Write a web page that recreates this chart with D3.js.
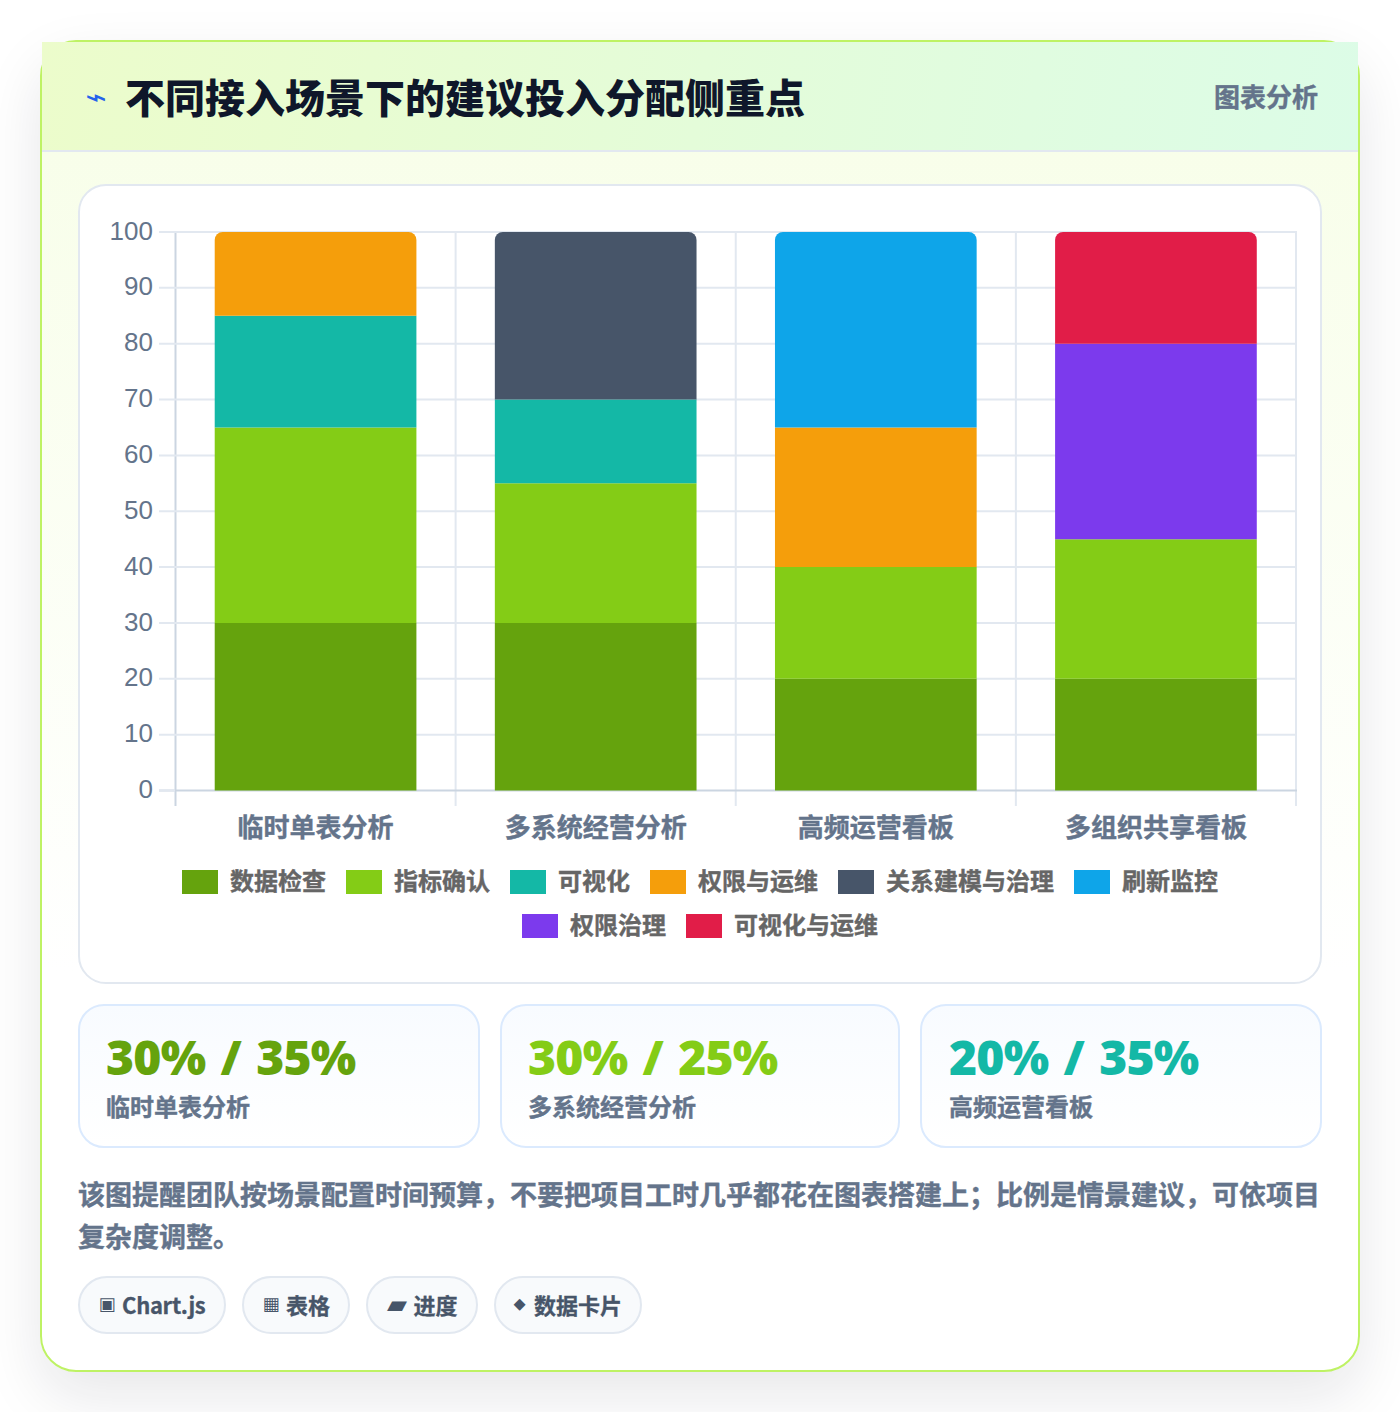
<!DOCTYPE html>
<html lang="zh"><head><meta charset="utf-8">
<script src="https://cdn.jsdelivr.net/npm/d3@7"></script>
<style>
*{box-sizing:border-box;margin:0;padding:0}
html,body{width:1400px;height:1412px;background:#fff;overflow:hidden}
body{font-family:"Noto Sans CJK SC","Noto Sans",sans-serif;position:relative}
.card{position:absolute;left:40px;top:40px;width:1320px;height:1332px;border:2px solid #bef264;border-radius:36px;background:linear-gradient(180deg,#f7fee7 0%,#ffffff 70%);box-shadow:0 24px 60px rgba(15,23,42,.10)}
.head{position:absolute;left:0;top:0;width:1316px;height:110px;background:linear-gradient(100deg,#ecfccb,#dcfce7);border-bottom:2px solid #e2e8f0}
.bolt{position:absolute;left:43px;top:38px;font-family:"DejaVu Sans";font-size:26px;line-height:34px;color:#2563eb;font-weight:700;transform:scaleX(1.4);transform-origin:0 50%}
h1{position:absolute;left:83px;top:27px;font-size:40px;line-height:54px;font-weight:900;color:#0f172a;white-space:nowrap}
.tag{position:absolute;right:40px;top:35px;font-size:26px;line-height:38px;font-weight:700;color:#64748b;-webkit-text-stroke:.4px #64748b}
.panel{position:absolute;left:36px;top:142px;width:1244px;height:800px;background:#fff;border:2px solid #e2e8f0;border-radius:28px}
svg{position:absolute;left:-80px;top:-186px;display:block}
svg text{font-family:"Noto Sans CJK SC",sans-serif}
.stat{position:absolute;top:962px;height:144px;border:2px solid #dbeafe;border-radius:26px;background:linear-gradient(180deg,#f8fbff,#ffffff);padding:0 26px}
.stat b{display:block;font-family:"Noto Sans";font-size:48px;line-height:60px;margin-top:21px;font-weight:900;letter-spacing:-.8px;word-spacing:3.5px;white-space:nowrap}
.stat span{display:block;font-size:24px;line-height:36px;margin-top:1px;font-weight:700;color:#64748b;-webkit-text-stroke:.4px #64748b}
.note{position:absolute;left:36px;top:1131px;width:1250px;font-size:27px;line-height:42px;font-weight:700;color:#64748b;-webkit-text-stroke:.4px #64748b}
.pills{position:absolute;left:36px;top:1234px;display:flex;gap:16px}
.pill{height:58px;border:2px solid #e2e8f0;border-radius:29px;background:#f8fafc;padding:0 18.5px;font-size:22px;line-height:52px;font-weight:700;color:#475569;white-space:nowrap}
.pill span{-webkit-text-stroke:.3px #475569}
.pill i{display:inline-block;font-family:"DejaVu Sans";font-style:normal;font-weight:700;vertical-align:top}
</style></head><body>
<div class="card">
 <div class="head"><span class="bolt">⌁</span><h1 id="title"></h1><span class="tag" id="tag"></span></div>
 <div class="panel" id="panel"></div>
 <div id="stats"></div>
 <div class="note" id="note"></div>
 <div class="pills" id="pills"></div>
</div>
<script>
const titleText="不同接入场景下的建议投入分配侧重点";
const tagText="图表分析";
const categories=["临时单表分析","多系统经营分析","高频运营看板","多组织共享看板"];
const seriesNames=["数据检查","指标确认","可视化","权限与运维","关系建模与治理","刷新监控","权限治理","可视化与运维"];
const seriesColors=["#65a30d","#84cc16","#14b8a6","#f59e0b","#475569","#0ea5e9","#7c3aed","#e11d48"];
const dataCheck=[30,30,20,20];
const metricConfirm=[35,25,20,25];
const visualize=[20,15,0,0];
const permOps=[15,0,25,0];
const modeling=[0,30,0,0];
const refreshMonitor=[0,0,35,0];
const permGovern=[0,0,0,35];
const visualOps=[0,0,0,20];
const seriesValues=[dataCheck,metricConfirm,visualize,permOps,modeling,refreshMonitor,permGovern,visualOps];
const yTicks=[0,10,20,30,40,50,60,70,80,90,100];
const statValues=["30% / 35%","30% / 25%","20% / 35%"];
const statLabels=["临时单表分析","多系统经营分析","高频运营看板"];
const statColors=["#65a30d","#84cc16","#14b8a6"];
const noteText="该图提醒团队按场景配置时间预算，不要把项目工时几乎都花在图表搭建上；比例是情景建议，可依项目复杂度调整。";
const pillIcons=["▣","▦","▰","⬥"];
const pillLabels=["Chart.js","表格","进度","数据卡片"];

d3.select("#title").text(titleText);
d3.select("#tag").text(tagText);
d3.select("#note").text(noteText);
const statX=[[36,402,26],[458,400,26],[878,402,27]];
d3.select("#stats").selectAll("div").data(statValues).join("div").attr("class","stat")
  .style("left",(d,i)=>statX[i][0]+"px").style("width",(d,i)=>statX[i][1]+"px").style("padding-left",(d,i)=>statX[i][2]+"px")
  .html((d,i)=>`<b style="color:${statColors[i]}">${d}</b><span>${statLabels[i]}</span>`);
const iconBox=[[23.5,18],[23.5,18],[26.5,26],[19.5,16]];
d3.select("#pills").selectAll("div").data(pillLabels).join("div").attr("class","pill")
  .html((d,i)=>`<i style="width:${iconBox[i][0]}px;font-size:${iconBox[i][1]}px">${pillIcons[i]}</i><span style="letter-spacing:${i==0?-.3:0}px">${d}</span>`);

const svg=d3.select("#panel").append("svg").attr("width",1400).attr("height",1412);
const x=d3.scaleBand().domain(categories).range([175.5,1296]).paddingInner(.28).paddingOuter(.14);
const y=d3.scaleLinear().domain([0,100]).range([790.5,232]);
const edges=d3.range(categories.length+1).map(i=>x.range()[0]+i*x.step());

const g=svg.append("g");
g.selectAll("line.v").data(edges).join("line").attr("class","v")
  .attr("x1",d=>d).attr("x2",d=>d).attr("y1",y(100)).attr("y2",806)
  .attr("stroke",(d,i)=>i==0?"#cbd5e1":"#e2e8f0").attr("stroke-width",2);
g.selectAll("line.h").data(yTicks).join("line").attr("class","h")
  .attr("x1",159).attr("x2",x.range()[1]+1).attr("y1",d=>y(d)).attr("y2",d=>y(d))
  .attr("stroke",d=>d==0?"#cbd5e1":"#e2e8f0").attr("stroke-width",2);
g.append("line").attr("x1",159).attr("x2",175).attr("y1",y(0)).attr("y2",y(0)).attr("stroke","#e2e8f0").attr("stroke-width",2);

const stackInput=categories.map((c,i)=>{const o={c};seriesNames.forEach((s,k)=>o[s]=seriesValues[k][i]);return o;});
const stacked=d3.stack().keys(seriesNames)(stackInput);
const topIndex=categories.map((c,i)=>d3.max(seriesNames.map((s,k)=>seriesValues[k][i]>0?k:-1)));
function seg(x0,w,y0,y1,r){
  const p=d3.path();
  p.moveTo(x0,y0);p.lineTo(x0,y1+r);
  if(r)p.arcTo(x0,y1,x0+r,y1,r);
  p.lineTo(x0+w-r,y1);
  if(r)p.arcTo(x0+w,y1,x0+w,y1+r,r);
  p.lineTo(x0+w,y0);p.closePath();
  return p.toString();
}
stacked.forEach((layer,k)=>{
  g.append("g").attr("fill",seriesColors[k]).selectAll("path").data(layer.filter(d=>d[1]>d[0])).join("path")
   .attr("d",d=>seg(x(d.data.c),x.bandwidth(),y(d[0]),y(d[1]),topIndex[categories.indexOf(d.data.c)]===k?8:0));
});
g.selectAll("text.y").data(yTicks).join("text").attr("class","y")
  .attr("x",153).attr("y",d=>y(d)-1.5).attr("dy","0.35em").attr("text-anchor","end")
  .style("font-family","'Liberation Sans',Arial,sans-serif").attr("font-size",26).attr("fill","#64748b").text(d=>d);
g.selectAll("text.x").data(categories).join("text").attr("class","x")
  .attr("x",d=>x(d)+x.bandwidth()/2).attr("y",837).attr("text-anchor","middle")
  .attr("font-size",26).attr("font-weight",700).attr("fill","#64748b").attr("stroke","#64748b").attr("stroke-width",.4).text(d=>d);

const rows=[[0,1,2,3,4,5],[6,7]];
const rowY=[870,914];
const lg=svg.append("g");
rows.forEach((row,r)=>{
  const w=row.map(k=>36+12+seriesNames[k].length*24);
  const total=d3.sum(w)+20*(row.length-1);
  let cx=700-total/2;
  row.forEach((k,j)=>{
    lg.append("rect").attr("x",cx).attr("y",rowY[r]).attr("width",36).attr("height",24).attr("fill",seriesColors[k]);
    lg.append("text").attr("x",cx+48).attr("y",rowY[r]+20).attr("font-size",24).attr("font-weight",700).attr("fill","#666").attr("stroke","#666").attr("stroke-width",.4).text(seriesNames[k]);
    cx+=w[j]+20;
  });
});
</script>
</body></html>
